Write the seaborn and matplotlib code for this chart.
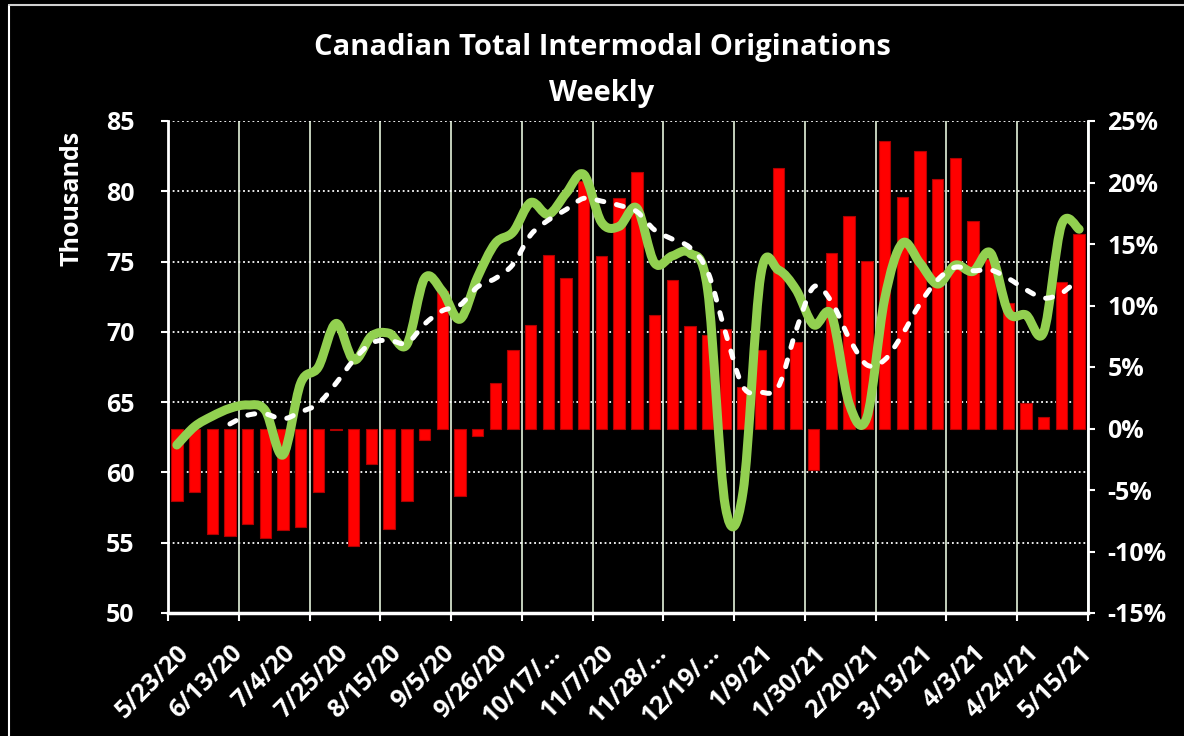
import numpy as np
import pandas as pd
import seaborn as sns
import matplotlib.pyplot as plt
from matplotlib.path import Path
from matplotlib.patches import PathPatch
from matplotlib.lines import Line2D

# weekly data, 5/23/20 .. 5/15/21 (52 weeks)
weeks = pd.date_range("2020-05-23", periods=52, freq="7D").strftime("%-m/%-d/%y").tolist()

# weekly originations, thousands (left axis)
originations = [61.95, 63.26, 64.0, 64.56, 64.8, 64.4, 61.25, 66.35, 67.5, 70.6,
                68.0, 69.7, 69.9, 69.1, 73.8, 72.9, 70.9, 73.9, 76.3, 77.1,
                79.2, 78.35, 79.85, 81.2, 77.8, 77.5, 78.8, 74.9, 75.4, 75.6,
                73.0, 57.6, 58.6, 74.0, 74.4, 73.0, 70.5, 71.2, 64.9, 63.9,
                72.3, 76.3, 74.9, 73.4, 74.75, 74.3, 75.6, 71.4, 71.2, 70.0,
                77.6, 77.3]

# 4-week average, starts at week 4
avg_start = 3
avg_4wk = [63.45, 64.07, 64.16, 63.8, 64.3, 64.9, 66.35, 68.0, 69.2, 69.4,
           69.2, 70.55, 71.5, 71.9, 73.2, 73.8, 74.8, 76.9, 77.95, 78.7,
           79.5, 79.3, 79.0, 78.55, 77.25, 76.6, 76.0, 74.3, 70.0, 66.1,
           65.7, 66.1, 70.1, 73.2, 72.15, 69.55, 67.65, 68.0, 69.8, 72.0,
           73.7, 74.6, 74.35, 74.4, 73.8, 73.0, 72.4, 72.75, 73.8]

# year over year change, % (right axis)
yoy_pct = [-5.87, -5.2, -8.6, -8.7, -7.8, -8.9, -8.25, -8.0, -5.2, -0.1,
           -9.55, -2.9, -8.2, -5.9, -0.96, 11.2, -5.5, -0.6, 3.7, 6.4,
           8.45, 14.1, 12.2, 20.1, 14.0, 18.7, 20.85, 9.2, 12.05, 8.33,
           7.6, 8.06, 3.4, 6.4, 21.2, 7.06, -3.4, 14.3, 17.3, 13.6,
           23.4, 18.85, 22.6, 20.3, 22.0, 16.85, 13.8, 10.2, 2.05, 0.96,
           11.9, 15.8]

shown_labels = ["5/23/20", "6/13/20", "7/4/20", "7/25/20", "8/15/20", "9/5/20",
                "9/26/20", "10/17/…", "11/7/20", "11/28/…", "12/19/…", "1/9/21",
                "1/30/21", "2/20/21", "3/13/21", "4/3/21", "4/24/21", "5/15/21"]
left_ticks = [50, 55, 60, 65, 70, 75, 80, 85]
right_ticks = [-15, -10, -5, 0, 5, 10, 15, 20, 25]

sns.set_style("dark", {"axes.facecolor": "black", "figure.facecolor": "black"})
plt.rcParams['font.family'] = ['Open Sans', 'DejaVu Sans']
plt.rcParams['font.weight'] = 'bold'


def smooth_path(xs, ys):
    # excel-like smoothed line: bezier segments through the data points
    pts = np.column_stack([xs, ys]).astype(float)
    verts = [pts[0]]
    codes = [Path.MOVETO]
    n = len(pts)
    for i in range(n - 1):
        p0 = pts[max(i - 1, 0)]
        p1 = pts[i]
        p2 = pts[i + 1]
        p3 = pts[min(i + 2, n - 1)]
        verts += [p1 + (p2 - p0) / 6, p2 - (p3 - p1) / 6, p2]
        codes += [Path.CURVE4] * 3
    return Path(verts, codes)


fig = plt.figure(figsize=(11.84, 7.36), dpi=100)
fig.patch.set_facecolor("black")
ax = fig.add_axes([168 / 1184, 1 - 613 / 736, 920 / 1184, 492 / 736])
ax.set_facecolor("black")
ax_bar = ax.twinx()
ax_line = ax.twinx()

# bars on the percent scale
sns.barplot(x=weeks, y=yoy_pct, ax=ax_bar, color="#FF0000", width=0.64,
            edgecolor="#B00000", linewidth=0.8, saturation=1)

# lines on the thousands scale
x_all = np.arange(len(originations))
ax_line.add_patch(PathPatch(smooth_path(x_all, originations), fill=False,
                            edgecolor="#92D050", lw=6.5, capstyle="round",
                            joinstyle="round", zorder=3))
x_avg = np.arange(avg_start, avg_start + len(avg_4wk))
ax_line.add_patch(PathPatch(smooth_path(x_avg, avg_4wk), fill=False,
                            edgecolor="white", lw=3.6, capstyle="round",
                            linestyle=(0, (1.4, 2.6)), zorder=4))

for a in (ax, ax_bar, ax_line):
    a.set_xlim(-0.5, 51.5)
    for s in a.spines.values():
        s.set_visible(False)
    a.set_xlabel("")
    a.set_ylabel("")

ax.set_ylim(50, 85)
ax_line.set_ylim(50, 85)
ax_bar.set_ylim(-15, 25)

# left axis
ax.set_yticks(left_ticks)
ax.set_yticklabels([str(v) for v in left_ticks], fontweight="bold")
ax.tick_params(axis="y", which="major", left=True, length=5, width=1.5, color="white",
               labelcolor="white", labelsize=18, pad=19)
ax.yaxis.grid(True, color="white", linestyle=(0, (1, 1.6)), linewidth=1.3)

# right axis
ax_bar.yaxis.tick_right()
ax_bar.set_yticks(right_ticks)
ax_bar.set_yticklabels([f"{v}%" for v in right_ticks], fontweight="bold")
ax_bar.tick_params(axis="y", right=True, length=5, width=1.5, color="white",
                   labelcolor="white", labelsize=18, pad=9)
ax_bar.grid(False)
ax_line.set_yticks([])
ax_line.grid(False)

# x axis: tick marks every 4 weeks, labels every 3 weeks
ax.set_xticks(np.arange(-0.5, 52, 4))
ax.set_xticklabels([])
ax.set_xticks(np.arange(0, 52, 3), minor=True)
ax.set_xticklabels(shown_labels, minor=True, rotation=45, ha="right",
                   rotation_mode="anchor", color="white", fontsize=18, fontweight="bold")
ax.tick_params(axis="x", which="major", bottom=True, length=6, width=1.5, color="white")
ax.tick_params(axis="x", which="minor", bottom=False, length=0, pad=20)
ax.xaxis.grid(True, which="major", color="#c4d0bc", linestyle="-", linewidth=1.4)

ax.spines["left"].set_visible(True)
ax.spines["left"].set_color("white")
ax.spines["left"].set_linewidth(2)
ax.spines["bottom"].set_visible(True)
ax.spines["bottom"].set_color("white")
ax.spines["bottom"].set_linewidth(2.5)
ax_bar.spines["right"].set_visible(True)
ax_bar.spines["right"].set_color("white")
ax_bar.spines["right"].set_linewidth(2)

fig.text(72 / 1184, 1 - 198 / 736, "Thousands", rotation=90, ha="center", va="center",
         color="white", fontsize=18, fontweight="bold")
fig.text(602 / 1184, 1 - 48 / 736, "Canadian Total Intermodal Originations",
         ha="center", va="center", color="white", fontsize=21, fontweight="bold")
fig.text(602 / 1184, 1 - 93 / 736, "Weekly", ha="center", va="center",
         color="white", fontsize=21, fontweight="bold")

# outer chart frame
fig.add_artist(Line2D([9 / 1184, 9 / 1184], [0, 1 - 5 / 736], color="white", lw=1.5))
fig.add_artist(Line2D([9 / 1184, 1], [1 - 5 / 736, 1 - 5 / 736], color="#d0d0d0", lw=1.5))

fig.savefig("out.png", dpi=100, facecolor="black")
